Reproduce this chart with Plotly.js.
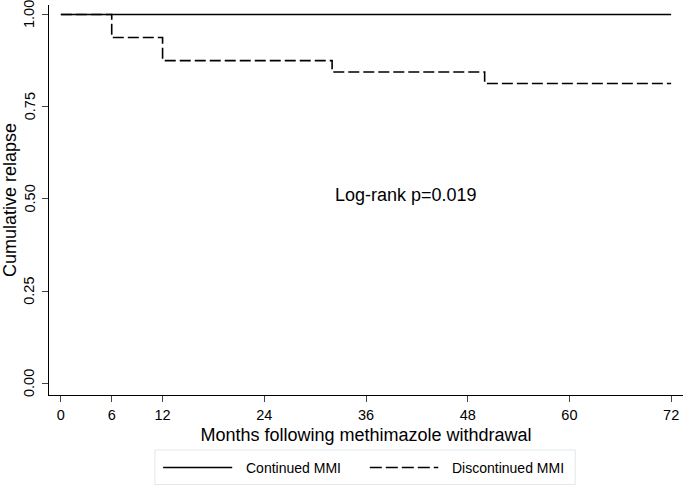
<!DOCTYPE html>
<html>
<head>
<meta charset="utf-8">
<script src="https://cdn.plot.ly/plotly-3.0.1.min.js"></script>
<style>html,body{margin:0;padding:0;background:#fff;}#chart{width:685px;height:486px;}</style>
</head>
<body>
<div id="chart"></div>
<script>
// Data
const continuedX = [0, 72];
const continuedY = [1.0, 1.0];
const discontinuedX = [0, 6, 12, 32, 50, 72];
const discontinuedY = [1.0, 0.9375, 0.875, 0.844, 0.813, 0.813];
const xTicks = [0, 6, 12, 24, 36, 48, 60, 72];
const yTicks = [0, 0.25, 0.5, 0.75, 1.0];
const yTickLabels = ["0.00", "0.25", "0.50", "0.75", "1.00"];
const seriesNames = ["Continued MMI", "Discontinued MMI"];
const annotationText = "Log-rank p=0.019";

const font = "Liberation Sans, Arial, sans-serif";

const traces = [
  {x: continuedX, y: continuedY, mode: "lines", line: {shape: "hv", color: "#000", width: 1.6}, name: seriesNames[0], showlegend: false},
  {x: discontinuedX, y: discontinuedY, mode: "lines", line: {shape: "hv", color: "#000", width: 1.6, dash: "11px,4px"}, name: seriesNames[1], showlegend: false}
];

const yLabelAnnotations = yTicks.map((v, i) => ({
  x: 0, y: v, xref: "paper", yref: "y", text: yTickLabels[i], showarrow: false,
  textangle: -90, xanchor: "center", yanchor: "middle", xshift: -19.5,
  font: {size: 14.5}
}));

const layout = {
  width: 685, height: 486,
  margin: {l: 49, r: 2, t: 5, b: 91},
  paper_bgcolor: "#fff", plot_bgcolor: "#fff",
  font: {family: font, color: "#000"},
  xaxis: {
    range: [-1.4, 73.4], tickvals: xTicks, ticks: "outside", ticklen: 6, tickwidth: 1,
    showgrid: false, zeroline: false, showline: true, linecolor: "#000", linewidth: 1.2,
    tickfont: {size: 14.5}, title: {text: "Months following methimazole withdrawal", font: {size: 18}, standoff: 6},
    ticklabeloverflow: "allow"
  },
  yaxis: {
    range: [-0.0312, 1.0257], tickvals: yTicks, ticks: "outside", ticklen: 6, tickwidth: 1,
    showticklabels: false, showgrid: false, zeroline: false, showline: true, linecolor: "#000", linewidth: 1.2,
    title: {text: "Cumulative relapse", font: {size: 18}, standoff: 29}
  },
  annotations: yLabelAnnotations.concat([
    {x: 40.7, y: 0.511, xref: "x", yref: "y", text: annotationText, showarrow: false, font: {size: 18}, xanchor: "center", yanchor: "middle"},
    {x: 0.307, y: -0.186, xref: "paper", yref: "paper", text: seriesNames[0], showarrow: false, xanchor: "left", yanchor: "middle", font: {size: 14}},
    {x: 0.632, y: -0.186, xref: "paper", yref: "paper", text: seriesNames[1], showarrow: false, xanchor: "left", yanchor: "middle", font: {size: 14}}
  ]),
  shapes: [
    {type: "rect", xref: "paper", yref: "paper", x0: 0.167, x1: 0.830, y0: -0.2295, y1: -0.141, line: {color: "#dfe8ee", width: 1}, fillcolor: "#fff"},
    {type: "line", xref: "paper", yref: "paper", x0: 0.180, x1: 0.289, y0: -0.186, y1: -0.186, line: {color: "#000", width: 1.4}},
    {type: "line", xref: "paper", yref: "paper", x0: 0.506, x1: 0.614, y0: -0.186, y1: -0.186, line: {color: "#000", width: 1.4, dash: "12px,4px"}}
  ]
};

Plotly.newPlot("chart", traces, layout, {displayModeBar: false, staticPlot: true});
</script>
</body>
</html>
